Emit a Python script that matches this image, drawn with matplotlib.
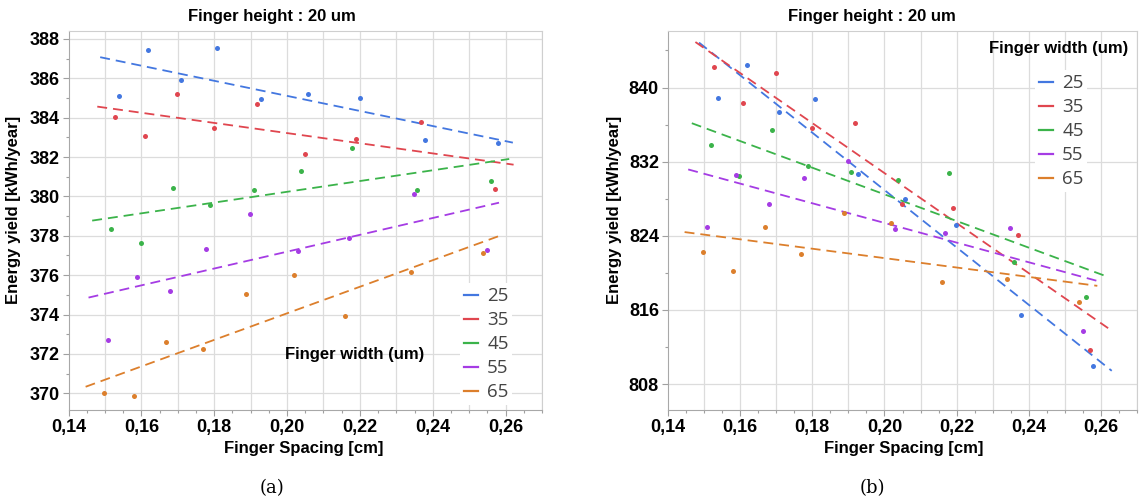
import numpy as np
import matplotlib
matplotlib.use("Agg")
import matplotlib.pyplot as plt
from matplotlib.lines import Line2D
from matplotlib.ticker import MultipleLocator, FuncFormatter

# widths (legend labels) and colours
widths = ["25", "35", "45", "55", "65"]
colors = ["#4377e0", "#e0464f", "#3bb34a", "#a53ce4", "#dc7f2c"]

# finger spacing of each point, per width (small offsets between groups)
x_25 = [0.1539, 0.1619, 0.1708, 0.1808, 0.1928, 0.2058, 0.2199, 0.2379, 0.2578]
x_35 = [0.1528, 0.1609, 0.1698, 0.1799, 0.1918, 0.2049, 0.2189, 0.2369, 0.2570]
x_45 = [0.1518, 0.1598, 0.1688, 0.1789, 0.1908, 0.2038, 0.2179, 0.2358, 0.2560]
x_55 = [0.1508, 0.1588, 0.1679, 0.1778, 0.1899, 0.2029, 0.2169, 0.2349, 0.2549]
x_65 = [0.1498, 0.1579, 0.1668, 0.1769, 0.1888, 0.2019, 0.2159, 0.2339, 0.2539]

# (a) energy yield [kWh/year]
ya_25 = [385.12, 387.46, 385.92, 387.53, 384.95, 385.19, 384.99, 382.85, 382.72]
ya_35 = [384.05, 383.05, 385.20, 383.46, 384.71, 382.17, 382.92, 383.77, 380.40]
ya_45 = [378.33, 377.62, 380.45, 379.57, 380.34, 381.29, 382.46, 380.33, 380.77]
ya_55 = [372.69, 375.91, 375.20, 377.33, 379.11, 377.21, 377.87, 380.14, 377.28]
ya_65 = [370.00, 369.86, 372.60, 372.25, 375.04, 376.01, 373.94, 376.16, 377.11]

# (b) energy yield [kWh/year]
yb_25 = [838.88, 842.40, 837.37, 838.74, 830.66, 827.96, 825.13, 815.40, 809.90]
yb_35 = [842.19, 838.31, 841.60, 835.58, 836.12, 827.42, 827.00, 824.12, 811.66]
yb_45 = [833.78, 830.48, 835.43, 831.49, 830.91, 829.98, 830.77, 821.17, 817.40]
yb_55 = [824.91, 830.58, 827.42, 830.23, 832.06, 824.73, 824.27, 824.87, 813.74]
yb_65 = [822.25, 820.24, 824.98, 822.07, 826.49, 825.41, 819.02, 819.38, 816.90]

# linear fit lines: start/end spacing and yield
fa_x0 = [0.1487, 0.1479, 0.1465, 0.1455, 0.1447]
fa_x1 = [0.2620, 0.2622, 0.2610, 0.2582, 0.2590]
fa_y0 = [387.07, 384.56, 378.77, 374.86, 370.33]
fa_y1 = [382.73, 381.61, 381.90, 379.68, 378.04]

fb_x0 = [0.1486, 0.1476, 0.1466, 0.1456, 0.1446]
fb_x1 = [0.2630, 0.2620, 0.2610, 0.2602, 0.2590]
fb_y0 = [844.85, 844.91, 836.15, 831.16, 824.40]
fb_y1 = [809.43, 814.03, 819.70, 819.00, 818.60]

xs = [x_25, x_35, x_45, x_55, x_65]
ya = [ya_25, ya_35, ya_45, ya_55, ya_65]
yb = [yb_25, yb_35, yb_45, yb_55, yb_65]

W, H = 1139, 503
fig = plt.figure(figsize=(W / 100, H / 100), dpi=100)
BOLD = dict(family="Liberation Sans", weight="bold")


def px(x, y):
    return x / W, 1 - y / H


def panel(rect, ys, fx0, fx1, fy0, fy1, ylim, ymaj, ymin):
    ax = fig.add_axes(rect)
    ax.set_xlim(0.14, 0.27)
    ax.set_ylim(*ylim)
    ax.xaxis.set_major_locator(MultipleLocator(0.02))
    ax.xaxis.set_minor_locator(MultipleLocator(0.005))
    ax.yaxis.set_major_locator(MultipleLocator(ymaj))
    ax.yaxis.set_minor_locator(MultipleLocator(ymin))
    ax.xaxis.set_major_formatter(FuncFormatter(lambda v, p: f"{v:.2f}".replace(".", ",")))
    ax.yaxis.set_major_formatter(FuncFormatter(lambda v, p: f"{v:.0f}"))
    # grid: vertical every 0.01, horizontal at majors
    for gx in np.arange(0.15, 0.27, 0.01):
        ax.axvline(gx, color="#dcdcdc", lw=0.9, zorder=0)
    ax.grid(axis="y", which="major", color="#dcdcdc", lw=0.9, zorder=0)
    ax.set_axisbelow(True)
    for s in ax.spines.values():
        s.set_color("#cfcfcf")
    ax.spines["left"].set_color("#a8a8a8")
    ax.spines["bottom"].set_color("#a8a8a8")
    ax.tick_params(which="major", length=4.5, color="#a0a0a0", width=0.8, pad=2,
                   labelsize=13)
    ax.tick_params(which="minor", length=2.5, color="#a0a0a0", width=0.8)
    for lab in ax.get_xticklabels() + ax.get_yticklabels():
        lab.set_fontfamily("Liberation Sans")
        lab.set_fontweight("bold")
    for i in range(5):
        ax.plot([fx0[i], fx1[i]], [fy0[i], fy1[i]], color=colors[i], lw=1.3,
                dashes=(5.5, 3.3), zorder=2)
        ax.plot(xs[i], ys[i], "o", color=colors[i], ms=3.6, mew=0, zorder=3)
    return ax


ra = [68.5 / W, (H - 410) / H, (542 - 68.5) / W, (410 - 31) / H]
rb = [668 / W, (H - 410) / H, (1137 - 668) / W, (410 - 31) / H]
ax_a = panel(ra, ya, fa_x0, fa_x1, fa_y0, fa_y1, (369.15, 388.4), 2, 1)
ax_b = panel(rb, yb, fb_x0, fb_x1, fb_y0, fb_y1, (805.2, 846.1), 8, 4)

handles = [Line2D([], [], color=c, lw=1.6) for c in colors]
for ax, anchor in ((ax_a, px(451, 274)), (ax_b, px(1026, 61))):
    leg = ax.legend(handles, widths, loc="upper left", bbox_to_anchor=anchor,
                    bbox_transform=fig.transFigure, frameon=True, fancybox=False,
                    handlelength=0.75, handletextpad=0.48, labelspacing=0.32,
                    borderpad=0.2, prop=dict(family="Open Sans", size=13.5))
    leg.get_frame().set_edgecolor("none")
    leg.get_frame().set_facecolor("white")
    leg.get_frame().set_alpha(1)
    for t in leg.get_texts():
        t.set_color("#444444")

fig.text(*px(355, 355), "Finger width (um)", ha="center", va="center", fontsize=12, **BOLD)
fig.text(*px(1059, 48), "Finger width (um)", ha="center", va="center", fontsize=12, **BOLD)

for cx, cap in ((272, "(a)"), (872, "(b)")):
    fig.text(*px(cx, 17), "Finger height : 20 um", ha="center", va="center", fontsize=12, **BOLD)
    fig.text(*px(cx + 32, 448), "Finger Spacing [cm]", ha="center", va="center", fontsize=12, **BOLD)
    fig.text(*px(cx, 488), cap, ha="center", va="center", fontsize=13, family="DejaVu Serif")

fig.text(*px(14, 210), "Energy yield [kWh/year]", ha="center", va="center", rotation=90, fontsize=12, **BOLD)
fig.text(*px(614, 210), "Energy yield [kWh/year]", ha="center", va="center", rotation=90, fontsize=12, **BOLD)

fig.savefig("out.png", dpi=100)
